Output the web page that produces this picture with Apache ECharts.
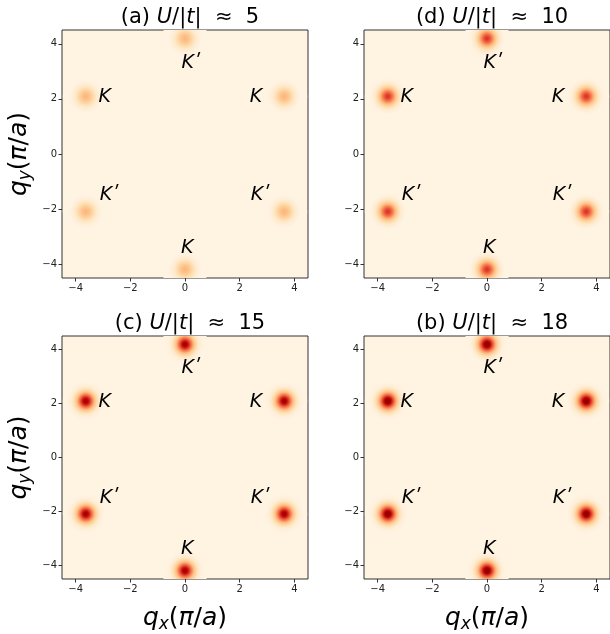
<!DOCTYPE html>
<html><head><meta charset="utf-8">
<script src="https://cdn.jsdelivr.net/npm/echarts@6/dist/echarts.min.js"></script>
<style>html,body{margin:0;padding:0;background:#fff}#c{width:610px;height:634px}</style>
</head><body><div id="c"></div>
<script>
// ---- data ----
const panelLetters = ['(a)', '(d)', '(c)', '(b)'];
const panelU = ['5', '10', '15', '18'];
const peakAmp = [0.39, 0.74, 0.92, 0.98];      // normalised peak intensity per panel
const bgLevel = 0.035;                          // normalised background intensity
const peakX = [0, -3.63, 3.63, -3.63, 3.63, 0];
const peakY = [4.19, 2.09, 2.09, -2.09, -2.09, -4.19];
const labelX = [0.2, -2.94, 2.6, -2.79, 2.73, 0.08];
const labelY = [3.3, 2.05, 2.05, -1.5, -1.5, -3.4];
const labelText = ['Kʹ', 'K', 'K', 'Kʹ', 'Kʹ', 'K'];
const tickValues = [-4, -2, 0, 2, 4];
const axisMin = -4.5, axisMax = 4.5;

// ---- colormap (OrRd) ----
const cmapStops = ['#fff7ec','#fee8c8','#fdd49e','#fdbb84','#fc8d59','#ef6548','#d7301f','#b30000','#7f0000'];
function hex2rgb(h){return [parseInt(h.slice(1,3),16),parseInt(h.slice(3,5),16),parseInt(h.slice(5,7),16)];}
const cmapRGB = cmapStops.map(hex2rgb);
function cmap(t){
  t = Math.max(0, Math.min(1, t));
  const p = t * (cmapRGB.length - 1);
  const i = Math.min(Math.floor(p), cmapRGB.length - 2);
  const f = p - i;
  const a = cmapRGB[i], b = cmapRGB[i + 1];
  return 'rgb(' + [0,1,2].map(k => Math.round(a[k] + (b[k] - a[k]) * f)).join(',') + ')';
}

// ---- layout ----
const grids = [
  {left: 62, top: 30, width: 246, height: 248},
  {left: 364, top: 30, width: 248, height: 248},
  {left: 62, top: 336, width: 246, height: 247},
  {left: 364, top: 336, width: 248, height: 247}
];
const FONT = 'DejaVu Sans';
const peakRadiusPx = 23, sigmaPx = 6.3;

function peakGradient(A){
  const stops = [];
  const n = 16;
  for (let k = 0; k <= n; k++){
    const f = k / n;
    const r = f * peakRadiusPx;
    const g = Math.exp(-r * r / (2 * sigmaPx * sigmaPx));
    let v = bgLevel + (A - bgLevel) * g;
    v -= bgLevel * 0.25 * Math.exp(-Math.pow((r - 17) / 4, 2)) * (1 - g);
    if (k === n) v = bgLevel;
    stops.push({offset: f, color: cmap(v)});
  }
  return new echarts.graphic.RadialGradient(0.5, 0.5, 0.5, stops);
}

const option = {
  animation: false,
  backgroundColor: '#fff',
  title: [], grid: [], xAxis: [], yAxis: [], series: []
};

const subAxisName = (v) => '{q|q}{s|' + v + '}{n|(}{q|π}{n|/}{q|a}{n|)}';
const nameRich = {
  q: {fontFamily: FONT, fontStyle: 'italic', fontSize: 25, color: '#000'},
  n: {fontFamily: FONT, fontSize: 25, color: '#000'},
  s: {fontFamily: FONT, fontStyle: 'italic', fontSize: 17, color: '#000', verticalAlign: 'bottom', padding: [13, 0, 0, 0]}
};

grids.forEach((g, i) => {
  option.grid.push(Object.assign({show: true, borderColor: '#333', borderWidth: 1,
    backgroundColor: cmap(bgLevel), containLabel: false}, g));
  option.title.push({
    text: panelLetters[i] + ' {i|U}/|{i|t}|  ≈  ' + panelU[i],
    left: g.left + 123, top: g.top - 28, textAlign: 'center',
    textStyle: {fontFamily: FONT, fontSize: 21, fontWeight: 'normal', color: '#000',
      rich: {i: {fontFamily: FONT, fontStyle: 'italic', fontSize: 21, color: '#000'}}}
  });
  const isBottom = i >= 2, isLeft = (i % 2) === 0;
  const axisCommon = {
    type: 'value', gridIndex: i, min: axisMin, max: axisMax,
    splitLine: {show: false},
    axisLine: {show: false, onZero: false},
    axisTick: {show: true, customValues: tickValues, length: 3.5, lineStyle: {color: '#333', width: 1}},
    axisLabel: {show: true, customValues: tickValues, fontFamily: FONT, fontSize: 10, color: '#222', margin: 5,
      formatter: v => (v < 0 ? '−' + (-v) : '' + v)}
  };
  option.xAxis.push(Object.assign({}, axisCommon, isBottom ? {
    name: subAxisName('x'), nameLocation: 'middle', nameGap: 24,
    nameTextStyle: {rich: nameRich}
  } : {}));
  option.yAxis.push(Object.assign({}, axisCommon, isLeft ? {
    name: subAxisName('y'), nameLocation: 'middle', nameGap: 28, nameRotate: 90,
    nameTextStyle: {rich: nameRich}
  } : {}));

  const grad = peakGradient(peakAmp[i]);
  option.series.push({
    type: 'custom', xAxisIndex: i, yAxisIndex: i, clip: true, silent: true,
    data: peakX.map((x, j) => [x, peakY[j]]),
    renderItem: (params, api) => {
      const p = api.coord([api.value(0), api.value(1)]);
      return {type: 'circle', shape: {cx: p[0], cy: p[1], r: peakRadiusPx}, style: {fill: grad}};
    }
  });
  option.series.push({
    type: 'custom', xAxisIndex: i, yAxisIndex: i, clip: false, silent: true, z: 5,
    data: labelX.map((x, j) => [x, labelY[j]]),
    renderItem: (params, api) => {
      const p = api.coord([api.value(0), api.value(1)]);
      return {type: 'text', x: p[0], y: p[1], style: {
        text: labelText[params.dataIndex], font: 'italic 19px "DejaVu Sans"',
        fill: '#000', align: 'center', verticalAlign: 'middle'}};
    }
  });
});

const chart = echarts.init(document.getElementById('c'), null, {renderer: 'canvas'});
chart.setOption(option);
</script>
</body></html>
